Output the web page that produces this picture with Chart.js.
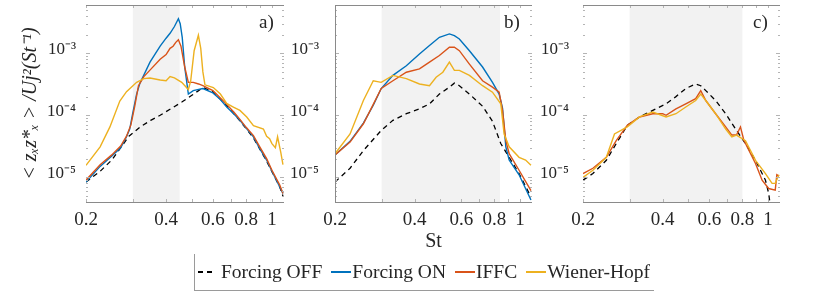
<!DOCTYPE html>
<html>
<head>
<meta charset="utf-8">
<script src="https://cdn.jsdelivr.net/npm/chart.js@4/dist/chart.umd.min.js"></script>
<style>
  body { margin:0; background:#fff; width:830px; height:293px; position:relative; overflow:hidden; font-family:"Liberation Serif", serif; color:#262626; }
  canvas { position:absolute; top:0; }
  .tag { position:absolute; top:12px; font-size:19px; line-height:19px; }
  #legend { position:absolute; left:194px; top:254px; height:36px; padding:0 4px 0 3px; border-left:1px solid #9a9a9a; border-bottom:1px solid #9a9a9a; display:flex; align-items:center; font-size:19.5px; white-space:nowrap; }
  #legend .sw { display:inline-block; width:20px; height:1.5px; margin:0 1px 0 9px; vertical-align:middle; }
  #legend .sw.first { margin-left:0; width:14px; margin-right:9px; }
</style>
</head>
<body>
<canvas id="cA" width="290" height="260" style="left:0px"></canvas>
<canvas id="cB" width="289" height="260" style="left:249px"></canvas>
<canvas id="cC" width="289" height="260" style="left:497px"></canvas>
<div class="tag" style="left:259px">a)</div>
<div class="tag" style="left:504px">b)</div>
<div class="tag" style="left:753px">c)</div>
<div id="legend">
  <span class="sw first" style="background:linear-gradient(to right,#000 0 5px,transparent 5px 9px,#000 9px 14px)"></span>Forcing OFF
  <span class="sw" style="background:#0072BD"></span>Forcing ON
  <span class="sw" style="background:#D95319"></span>IFFC
  <span class="sw" style="background:#EDB120"></span>Wiener-Hopf
</div>
<script>
// axes
const xTicks = [0.2, 0.3, 0.4, 0.5, 0.6, 0.7, 0.8, 0.9, 1];
const xLabels = [0.2, 0.4, 0.6, 0.8, 1];
const yTicks = [5e-6, 6e-6, 7e-6, 8e-6, 9e-6, 1e-5, 2e-5, 3e-5, 4e-5, 5e-5, 6e-5, 7e-5, 8e-5, 9e-5,
                1e-4, 2e-4, 3e-4, 4e-4, 5e-4, 6e-4, 7e-4, 8e-4, 9e-4, 1e-3, 2e-3, 3e-3, 4e-3, 5e-3];
const yLabelVals = [1e-5, 1e-4, 1e-3];
const yLabelText = ['10⁻⁵', '10⁻⁴', '10⁻³'];

// panel a)
const stOffA = [0.2,0.226,0.25,0.27,0.29,0.32,0.35,0.38,0.42,0.46,0.5,0.53,0.55,0.6,0.68,0.76,0.85,0.95,1.07,1.1];
const offA = [8.4e-6,1.25e-5,1.9e-5,3e-5,4.6e-5,6.5e-5,8.3e-5,1.0e-4,1.3e-4,1.65e-4,2.1e-4,2.5e-4,2.8e-4,2.4e-4,1.4e-4,8e-5,4.4e-5,1.9e-5,7e-6,5e-6];
const stOnA = [0.2,0.226,0.25,0.27,0.284,0.292,0.3,0.31,0.319,0.348,0.38,0.4,0.414,0.43,0.445,0.452,0.46,0.47,0.485,0.506,0.55,0.6,0.64,0.676,0.72,0.758,0.8,0.852,0.9,0.955,1.0,1.07,1.1];
const onA = [8.4e-6,1.5e-5,2.2e-5,3e-5,4.5e-5,6e-5,1.1e-4,2.2e-4,3.3e-4,7.2e-4,1.3e-3,1.75e-3,2.1e-3,2.7e-3,3.6e-3,3.0e-3,1.8e-3,6e-4,2.2e-4,2.5e-4,2.7e-4,2.3e-4,1.8e-4,1.36e-4,1.05e-4,8.3e-5,6.2e-5,4.5e-5,2.9e-5,1.9e-5,1.25e-5,7e-6,5.5e-6];
const stIffcA = [0.2,0.226,0.25,0.27,0.284,0.295,0.305,0.315,0.33,0.35,0.38,0.4,0.414,0.425,0.435,0.445,0.455,0.47,0.485,0.506,0.53,0.55,0.6,0.64,0.676,0.72,0.758,0.8,0.852,0.9,0.955,1.0,1.07,1.1];
const iffcA = [9e-6,1.6e-5,2.3e-5,3.2e-5,4.6e-5,7e-5,1.4e-4,3.0e-4,4.2e-4,5.5e-4,8e-4,9.5e-4,1.2e-3,1.3e-3,1.5e-3,1.65e-3,1.3e-3,6e-4,3.4e-4,3.4e-4,3.2e-4,3e-4,2.5e-4,1.9e-4,1.5e-4,1.12e-4,8.6e-5,6.4e-5,4.7e-5,3.1e-5,2e-5,1.3e-5,7.5e-6,5.5e-6];
const stWhA = [0.2,0.226,0.246,0.268,0.284,0.31,0.33,0.348,0.38,0.4,0.414,0.43,0.458,0.485,0.495,0.51,0.529,0.54,0.55,0.56,0.602,0.64,0.676,0.716,0.758,0.804,0.852,0.929,0.955,0.98,1.0,1.03,1.05,1.08,1.1];
const whA = [1.56e-5,3.1e-5,6.5e-5,1.7e-4,2.4e-4,3.4e-4,3.9e-4,4e-4,3.7e-4,3.6e-4,4.2e-4,4e-4,3.4e-4,2.6e-4,3.6e-4,1.1e-3,1.95e-3,1.2e-3,5e-4,3.1e-4,2.8e-4,2.2e-4,1.55e-4,1.36e-4,1.2e-4,9.4e-5,6.8e-5,6e-5,4.6e-5,4.2e-5,3.5e-5,3e-5,4.5e-5,2.5e-5,1.6e-5];

// panel b)
const stOffB = [0.2,0.228,0.256,0.299,0.331,0.372,0.417,0.455,0.496,0.541,0.565,0.59,0.644,0.722,0.787,0.846,0.91,0.992,1.1];
const offB = [8.4e-6,1.4e-5,2.7e-5,5.7e-5,8.3e-5,1.06e-4,1.27e-4,1.53e-4,2.2e-4,2.84e-4,3.3e-4,3e-4,2.2e-4,1.4e-4,8e-5,3.5e-5,2.1e-5,1.15e-5,4.8e-6];
const stOnB = [0.2,0.228,0.256,0.279,0.299,0.331,0.372,0.417,0.455,0.496,0.541,0.565,0.59,0.644,0.722,0.787,0.834,0.859,0.884,0.91,0.992,1.1];
const onB = [2.3e-5,3.8e-5,7.5e-5,1.45e-4,2.7e-4,4.4e-4,6.3e-4,9.75e-4,1.33e-3,1.81e-3,2.05e-3,1.92e-3,1.7e-3,1.1e-3,6e-4,3.4e-4,2.2e-4,1.3e-4,3.1e-5,1.9e-5,1.1e-5,4.3e-6];
const stIffcB = [0.2,0.228,0.256,0.279,0.299,0.331,0.372,0.417,0.455,0.496,0.541,0.565,0.59,0.644,0.722,0.787,0.834,0.859,0.884,0.91,0.992,1.1];
const iffcB = [2.3e-5,3.7e-5,7.3e-5,1.5e-4,2.7e-4,3.6e-4,4.95e-4,5.6e-4,7.2e-4,9.2e-4,1.25e-3,1.25e-3,1.1e-3,6.7e-4,3.6e-4,2.84e-4,2.36e-4,1.2e-4,3.9e-5,2.4e-5,1.3e-5,6.1e-6];
const stWhB = [0.2,0.228,0.256,0.279,0.299,0.331,0.372,0.417,0.455,0.482,0.511,0.541,0.565,0.59,0.644,0.722,0.787,0.846,0.871,0.91,0.992,1.05,1.1];
const whB = [2.4e-5,5e-5,1.73e-4,3.6e-4,3.4e-4,4.4e-4,3.9e-4,3.2e-4,3e-4,4.1e-4,4.95e-4,7.2e-4,5.3e-4,5.3e-4,4.4e-4,3e-4,2.36e-4,1.53e-4,5e-5,3.1e-5,2.1e-5,1.9e-5,1.56e-5];

// panel c)
const stOffC = [0.2,0.218,0.245,0.267,0.294,0.327,0.367,0.412,0.449,0.489,0.533,0.557,0.582,0.634,0.692,0.754,0.822,0.897,0.978,1.006,1.02];
const offC = [9e-6,1.15e-5,1.88e-5,3.5e-5,6.9e-5,9.4e-5,1.2e-4,1.53e-4,2e-4,2.7e-4,3.2e-4,3e-4,2.5e-4,1.73e-4,1.06e-4,6e-5,3.5e-5,1.88e-5,9e-6,5.5e-6,3.5e-6];
const stIffcC = [0.2,0.218,0.245,0.267,0.294,0.327,0.367,0.4,0.412,0.449,0.489,0.533,0.557,0.582,0.634,0.692,0.73,0.76,0.787,0.81,0.897,0.95,1.006,1.065,1.08,1.1];
const iffcC = [1.15e-5,1.4e-5,2.1e-5,3.9e-5,6.9e-5,9.4e-5,1.06e-4,1.06e-4,1e-4,1.27e-4,1.53e-4,1.85e-4,2.5e-4,1.73e-4,1.06e-4,6.5e-5,4.8e-5,4.8e-5,6.5e-5,4e-5,1.67e-5,9e-6,6.6e-6,6.2e-6,1.1e-5,1.05e-5];
const stWhC = [0.2,0.218,0.245,0.263,0.294,0.327,0.367,0.412,0.449,0.489,0.533,0.557,0.582,0.634,0.692,0.73,0.76,0.822,0.897,0.978,1.036,1.065,1.1];
const whC = [1e-5,1.3e-5,2.1e-5,5e-5,6.5e-5,9.4e-5,1.13e-4,9.4e-5,1.06e-4,1.36e-4,1.73e-4,2.2e-4,1.73e-4,1.06e-4,6e-5,4.5e-5,4.8e-5,3.9e-5,1.88e-5,1.15e-5,8e-6,8e-6,1.1e-5];

// shaded St bands
const shadeA = [0.3, 0.45];
const shadeB = [0.3, 0.84];
const shadeC = [0.3, 0.8];

const COL = {off:'#000000', on:'#0072BD', iffc:'#D95319', wh:'#EDB120'};
const SERIF = '"Liberation Serif", serif';
Chart.defaults.font.family = SERIF;
Chart.defaults.color = '#262626';

const pts = (st, v) => st.map((s, i) => ({x: s, y: v[i]}));
const ds = (st, v, color, dash) => ({data: pts(st, v), borderColor: color, borderWidth: dash ? 1.3 : 1.4,
    borderDash: dash ? [5, 4] : [], pointRadius: 0, tension: 0, fill: false});

// shading, inner ticks and box lines
const framePlugin = {
    id: 'frame',
    beforeDatasetsDraw(chart, args, o) {
        const {ctx, chartArea: a, scales: {x}} = chart;
        const x0 = x.getPixelForValue(o.shade[0]), x1 = x.getPixelForValue(o.shade[1]);
        ctx.save();
        ctx.fillStyle = '#f2f2f2';
        ctx.fillRect(x0, a.top, x1 - x0, a.bottom - a.top);
        ctx.restore();
    },
    afterDraw(chart, args, o) {
        const {ctx, chartArea: a, scales: {x, y}} = chart;
        ctx.save();
        ctx.lineWidth = 1;
        ctx.strokeStyle = '#b4b4b4';
        ctx.beginPath();
        x.ticks.forEach(t => {
            const px = Math.round(x.getPixelForValue(t.value)) + .5;
            ctx.moveTo(px, a.top); ctx.lineTo(px, a.top + 3);
            ctx.moveTo(px, a.bottom); ctx.lineTo(px, a.bottom - 3);
        });
        y.ticks.forEach(t => {
            const py = Math.round(y.getPixelForValue(t.value)) + .5;
            const len = yLabelVals.includes(t.value) ? 4 : 2;
            ctx.moveTo(a.left, py); ctx.lineTo(a.left + len, py);
            ctx.moveTo(a.right, py); ctx.lineTo(a.right - len, py);
        });
        ctx.stroke();
        ctx.strokeStyle = '#8a8a8a';
        ctx.beginPath();
        ctx.moveTo(a.left, a.top + .5); ctx.lineTo(a.right, a.top + .5);
        ctx.moveTo(a.left, a.bottom + .5); ctx.lineTo(a.right, a.bottom + .5);
        if (o.leftLine) { ctx.moveTo(a.left + .5, a.top); ctx.lineTo(a.left + .5, a.bottom); }
        ctx.stroke();
        ctx.restore();
    }
};

function makePanel(id, datasets, shade, o) {
    return new Chart(document.getElementById(id), {
        type: 'line',
        data: {datasets},
        options: {
            responsive: false, animation: false, events: [],
            layout: {padding: {top: 5, right: 6, left: 0, bottom: 0}},
            plugins: {legend: {display: false}, tooltip: {enabled: false},
                      frame: {shade, leftLine: !!o.leftLine}},
            scales: {
                x: {
                    type: 'logarithmic', min: 0.2, max: 1.11,
                    afterBuildTicks: s => { s.ticks = xTicks.map(v => ({value: v})); },
                    afterFit: s => { s.height = 58; s.paddingLeft = 0; s.paddingRight = 0; },
                    grid: {display: false, drawTicks: false}, border: {display: false},
                    ticks: {autoSkip: false, maxRotation: 0, padding: 7, color: '#262626',
                            font: {family: SERIF, size: 19},
                            callback: v => xLabels.includes(v) ? String(v) : ''},
                    title: {display: !!o.xTitle, text: 'St', color: '#262626',
                            font: {family: SERIF, size: 20}, padding: {top: 0, bottom: 6}}
                },
                y: {
                    type: 'logarithmic', min: 4e-6, max: 6e-3,
                    afterBuildTicks: s => { s.ticks = yTicks.map(v => ({value: v})); },
                    afterFit: s => { s.width = 86; s.paddingTop = 0; s.paddingBottom = 0; },
                    grid: {display: false, drawTicks: false}, border: {display: false},
                    ticks: {autoSkip: false, padding: o.yPad, color: '#262626', labelOffset: -4,
                            font: {family: SERIF, size: 17},
                            callback: v => { const i = yLabelVals.indexOf(v); return i >= 0 ? yLabelText[i] : ''; }},
                    title: {display: !!o.yTitle, text: '< zₓz*ₓ > /Uj²(St⁻¹)', color: '#262626',
                            font: {family: SERIF, size: 20, style: 'italic'}, padding: {top: 19, bottom: 0}}
                }
            }
        },
        plugins: [framePlugin]
    });
}

makePanel('cA', [
    ds(stWhA, whA, COL.wh), ds(stIffcA, iffcA, COL.iffc), ds(stOnA, onA, COL.on), ds(stOffA, offA, COL.off, true)
], shadeA, {yTitle: true, yPad: 10});

makePanel('cB', [
    ds(stWhB, whB, COL.wh), ds(stIffcB, iffcB, COL.iffc), ds(stOnB, onB, COL.on), ds(stOffB, offB, COL.off, true)
], shadeB, {xTitle: true, leftLine: true, yPad: 16});

makePanel('cC', [
    ds(stWhC, whC, COL.wh), ds(stIffcC, iffcC, COL.iffc), ds(stOffC, offC, COL.off, true)
], shadeC, {yPad: 14});
</script>
</body>
</html>
